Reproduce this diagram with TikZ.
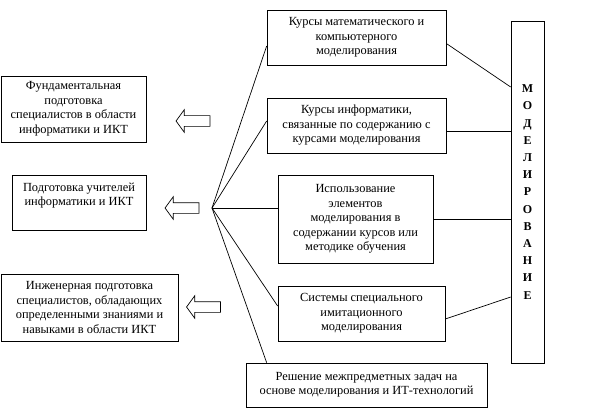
\documentclass[tikz,border=0pt]{standalone}
\usepackage{fontspec}
\setmainfont{Liberation Serif}
\usetikzlibrary{shapes.arrows}
\tikzset{
  blok/.style={draw,align=center,inner sep=2pt},
  strelka/.style={draw,single arrow,shape border rotate=180,single arrow head extend=6pt,
    single arrow tip angle=108,inner xsep=0pt,inner ysep=5pt,minimum height=34pt}
}

\begin{document}
\begin{tikzpicture}[x=1pt,y=-1pt,line width=0.7pt,every node/.style={font=\fontsize{12.4}{14.5}\selectfont}]
\useasboundingbox (0,0) rectangle (599,409);
\node[blok,minimum width=145,minimum height=66] (fund) at (73.5,109) {Фундаментальная\\подготовка\\специалистов в области\\информатики и ИКТ};
\node[blok,minimum width=134,inner ysep=3pt,text height=27.5pt,text depth=21.5pt] (uchit) at (79,202.5) {Подготовка учителей\\информатики и ИКТ};
\node[blok,minimum width=177,minimum height=67] (inzh) at (89.5,307.5) {Инженерная подготовка\\специалистов, обладающих\\определенными знаниями и\\навыками в области ИКТ};
\node[strelka] (s1) at (195,121) {};
\node[strelka] (s2) at (184,208) {};
\node[strelka] (s3) at (205.5,307) {};
\node[blok,minimum width=179,minimum height=55] (kursy) at (356.5,37.5) {Курсы математического и\\компьютерного\\моделирования};
\node[blok,minimum width=179,minimum height=55] (inform) at (356.5,125.5) {Курсы информатики,\\связанные по содержанию с\\курсами моделирования};
\node[blok,minimum width=155,minimum height=88] (ispolz) at (355.5,219) {Использование\\элементов\\моделирования в\\содержании курсов или\\методике обучения};
\node[blok,minimum width=167,minimum height=55] (sistemy) at (361.5,313.5) {Системы специального\\имитационного\\моделирования};
\node[blok,minimum width=241,minimum height=44] (reshenie) at (366.5,385) {Решение межпредметных задач на\\основе моделирования и ИТ-технологий};
\node[draw,minimum width=33,minimum height=342,align=center,font=\fontsize{12}{17.2}\selectfont\bfseries] (model) at (527.5,192) {М\\О\\Д\\Е\\Л\\И\\Р\\О\\В\\А\\Н\\И\\Е};
\coordinate (hub) at (212,208);
\draw (hub) -- ([yshift=-8.5pt]kursy.west);
\draw (hub) -- ([yshift=4.5pt]inform.west);
\draw (hub) -- (hub -| ispolz.west);
\draw (hub) -- ([yshift=7.5pt]sistemy.west);
\draw (hub) -- ([xshift=21pt]reshenie.north west);
\draw ([yshift=-6pt]kursy.east) -- ([yshift=105pt]model.west);
\draw ([yshift=-5.5pt]inform.east) -- ([yshift=-5.5pt]inform.east -| model.west);
\draw (ispolz.east) -- (ispolz.east -| model.west);
\draw ([yshift=-5.5pt]sistemy.east) -- ([yshift=-105pt]model.west);
\end{tikzpicture}
\end{document}
